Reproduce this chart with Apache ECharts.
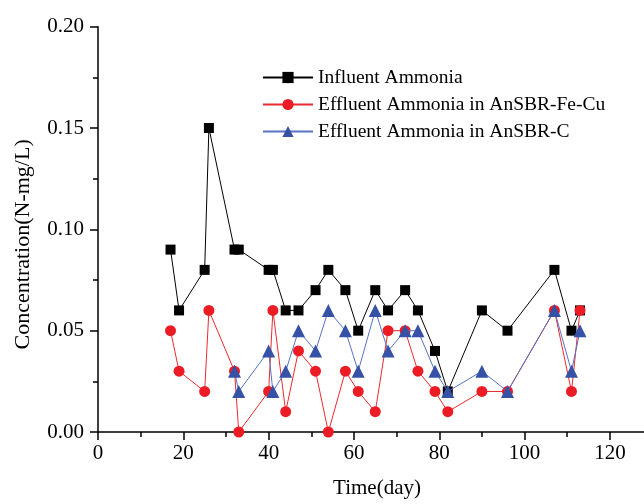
<!DOCTYPE html>
<html><head><meta charset="utf-8">
<script src="https://cdn.jsdelivr.net/npm/echarts@6/dist/echarts.min.js"></script>
<style>html,body{margin:0;padding:0;background:#fff}#c{width:644px;height:504px}</style>
</head><body><div id="c"></div>
<script>
const days = [17,19,25,26,32,33,40,41,44,47,51,54,58,61,65,68,72,75,79,82,90,96,107,111,113];
const influent = [0.09,0.06,0.08,0.15,0.09,0.09,0.08,0.08,0.06,0.06,0.07,0.08,0.07,0.05,0.07,0.06,0.07,0.06,0.04,0.02,0.06,0.05,0.08,0.05,0.06];
const effFeCu = [0.05,0.03,0.02,0.06,0.03,0.00,0.02,0.06,0.01,0.04,0.03,0.00,0.03,0.02,0.01,0.05,0.05,0.03,0.02,0.01,0.02,0.02,0.06,0.02,0.06];
const effC = [null,null,null,null,0.03,0.02,0.04,0.02,0.03,0.05,0.04,0.06,0.05,0.03,0.06,0.04,0.05,0.05,0.03,0.02,0.03,0.02,0.06,0.03,0.05];
const seriesNames = ['Influent Ammonia','Effluent Ammonia in AnSBR-Fe-Cu','Effluent Ammonia in AnSBR-C'];
const xTicks = [0,20,40,60,80,100,120];
const xMinorTicks = [10,30,50,70,90,110];
const yTicks = [0.00,0.05,0.10,0.15,0.20];

const pairs = arr => days.map((d,i)=> arr[i]==null ? null : [d, arr[i]]).filter(p=>p);
const FONT = "'Liberation Serif','Times New Roman',serif";
const XMAX = 128;
const chart = echarts.init(document.getElementById('c'), null, {renderer:'canvas'});
chart.setOption({
  animation:false,
  backgroundColor:'#fff',
  grid:{left:98, top:26.7, right:0, height:406.6},
  legend:{
    orient:'vertical', left:257, top:62, itemWidth:50, itemHeight:14, itemGap:6,
    textStyle:{fontFamily:FONT, fontSize:19.5, color:'#000', lineHeight:21},
    data:seriesNames
  },
  xAxis:[{
    type:'value', min:0, max:XMAX,
    name:'Time(day)', nameLocation:'middle', nameGap:46,
    nameTextStyle:{fontFamily:FONT, fontSize:21, color:'#000', padding:[0,0,0,12]},
    axisLine:{lineStyle:{color:'#000', width:1.5}},
    axisTick:{inside:false, length:8, customValues:xTicks, lineStyle:{color:'#000', width:1.5}},
    splitLine:{show:false},
    axisLabel:{fontFamily:FONT, fontSize:21, color:'#000', margin:11, customValues:xTicks,
      formatter:v=> String(v)}
  },{
    type:'value', min:0, max:XMAX, position:'bottom',
    axisLine:{show:false},
    axisTick:{inside:false, length:5, customValues:xMinorTicks, lineStyle:{color:'#000', width:1.5}},
    axisLabel:{show:false, customValues:xMinorTicks},
    splitLine:{show:false}
  }],
  yAxis:{
    type:'value', min:0, max:0.2, interval:0.05,
    name:'Concentration(N-mg/L)', nameLocation:'middle', nameGap:64,
    nameTextStyle:{fontFamily:FONT, fontSize:22, color:'#000', padding:[0,30,0,0]},
    axisLine:{lineStyle:{color:'#000', width:1.5}},
    axisTick:{inside:false, length:8, lineStyle:{color:'#000', width:1.5}},
    minorTick:{show:true, splitNumber:2, length:5, lineStyle:{color:'#000', width:1.5}},
    splitLine:{show:false},
    axisLabel:{fontFamily:FONT, fontSize:21, color:'#000', margin:14,
      formatter:v=> { const t = yTicks.find(k=>Math.abs(k-v)<1e-9); return t==null ? '' : t.toFixed(2); }}
  },
  series:[
    {name:seriesNames[0], type:'line', data:pairs(influent), symbol:'rect', symbolSize:10,
     lineStyle:{color:'#000', width:1}, itemStyle:{color:'#000'}, z:2},
    {name:seriesNames[1], type:'line', data:pairs(effFeCu), symbol:'circle', symbolSize:11,
     lineStyle:{color:'#ec2a2f', width:1}, itemStyle:{color:'#ec1c24'}, z:3},
    {name:seriesNames[2], type:'line', data:pairs(effC), symbol:'triangle', symbolSize:13,
     lineStyle:{color:'#5673c4', width:1}, itemStyle:{color:'#3652a6'}, z:4}
  ]
});
</script></body></html>
